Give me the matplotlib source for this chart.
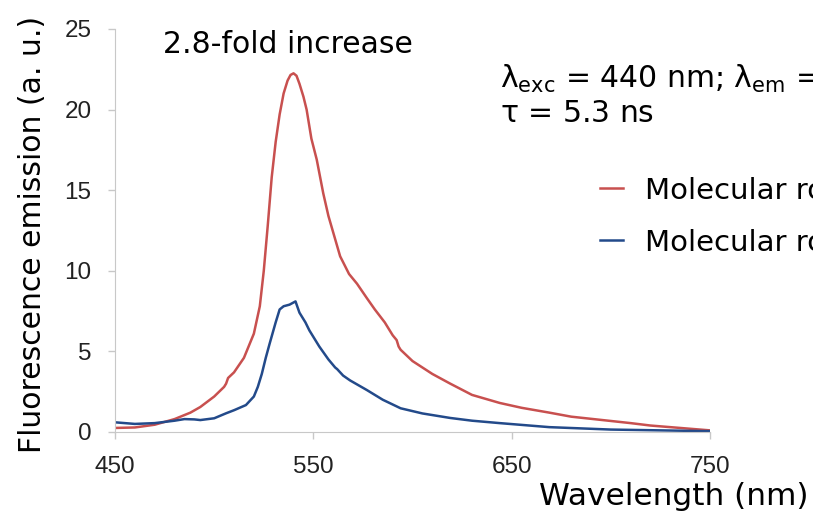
import matplotlib
matplotlib.use("Agg")
import matplotlib.pyplot as plt

plt.rcParams['font.family'] = ['DejaVu Sans']
plt.rcParams['mathtext.default'] = 'regular'

# emission spectra
wl_red = [450, 460, 470, 480, 488, 493, 500, 505, 506, 507, 510, 515, 520, 523,
          525, 527, 529, 531, 533, 535, 537, 538.5, 540, 541.5, 543, 545, 546.6,
          549, 551.7, 555, 557.6, 563.5, 568, 572, 577, 581, 586, 590, 592, 593,
          594, 600, 610, 619, 630, 644, 655, 669, 680, 695, 710, 720, 735, 750]
em_red = [0.25, 0.28, 0.45, 0.8, 1.2, 1.55, 2.2, 2.8, 3.0, 3.35, 3.7, 4.6, 6.1, 7.8,
          10.0, 12.8, 15.8, 18.0, 19.7, 21.0, 21.8, 22.15, 22.25, 22.1, 21.6, 20.8, 20.0,
          18.2, 16.9, 14.8, 13.4, 10.9, 9.8, 9.2, 8.3, 7.6, 6.8, 6.0, 5.7, 5.3,
          5.1, 4.4, 3.6, 3.0, 2.3, 1.8, 1.5, 1.2, 0.95, 0.75, 0.55, 0.4, 0.25, 0.1]

wl_blue = [450, 455, 460, 470, 480, 485, 490, 493, 500, 506, 510, 516, 520, 522,
           524, 526, 528, 531, 533, 535, 538, 541, 543, 546, 548, 553, 557.6, 561,
           562, 565, 568.5, 577, 585, 594, 605, 619, 630, 644, 669, 700, 750]
em_blue = [0.6, 0.55, 0.5, 0.55, 0.7, 0.8, 0.78, 0.74, 0.85, 1.16, 1.35, 1.67, 2.2, 2.8,
           3.6, 4.6, 5.5, 6.8, 7.6, 7.8, 7.9, 8.1, 7.4, 6.8, 6.3, 5.3, 4.5, 4.0,
           3.9, 3.5, 3.2, 2.6, 2.0, 1.47, 1.15, 0.87, 0.7, 0.55, 0.3, 0.15, 0.05]

labels = ["Molecular rotor + protein", "Molecular rotor"]
x_ticks = [450, 550, 650, 750]
y_ticks = [0, 5, 10, 15, 20, 25]

fig = plt.figure(figsize=(8.13, 5.15), dpi=100)
ax = fig.add_axes([0.1415, 0.1612, 0.7318, 0.7825])

ax.plot(wl_red, em_red, color='#c8504f', lw=1.8, label=labels[0])
ax.plot(wl_blue, em_blue, color='#234a8a', lw=1.8, label=labels[1])

ax.set_xlim(450, 750)
ax.set_ylim(0, 25)
ax.set_xticks(x_ticks)
ax.set_yticks(y_ticks)
for s in ['top', 'right']:
    ax.spines[s].set_visible(False)
for s in ['left', 'bottom']:
    ax.spines[s].set_color('#c8c8c8')
ax.tick_params(colors='#c8c8c8', length=5, width=1, pad=12, labelcolor='#222222',
               labelsize=17.5)
for t in ax.get_xticklabels() + ax.get_yticklabels():
    t.set_family('Liberation Sans')

fig.text(0.04, 0.545, 'Fluorescence emission (a. u.)', rotation=90,
         ha='center', va='center', fontsize=21.5)
fig.text(0.994, 0.02, 'Wavelength (nm)', ha='right', va='baseline', fontsize=22.5)
fig.text(0.354, 0.913, '2.8-fold increase', ha='center', va='center', fontsize=21.5)
# right-hand notes run past the figure edge, as in the source image
fig.text(0.615, 0.829, r'$\lambda_{exc}$ = 440 nm; $\lambda_{em}$ = 540 nm',
         ha='left', va='baseline', fontsize=21.5)
fig.text(0.615, 0.763, r'$\tau$ = 5.3 ns', ha='left', va='baseline', fontsize=21.5)

fig.legend(loc='upper left', bbox_to_anchor=(0.738, 0.657), frameon=False,
           fontsize=21, handlelength=0.8, handletextpad=0.75, labelspacing=0.82,
           borderpad=0, borderaxespad=0)

fig.savefig('out.png', dpi=100)
